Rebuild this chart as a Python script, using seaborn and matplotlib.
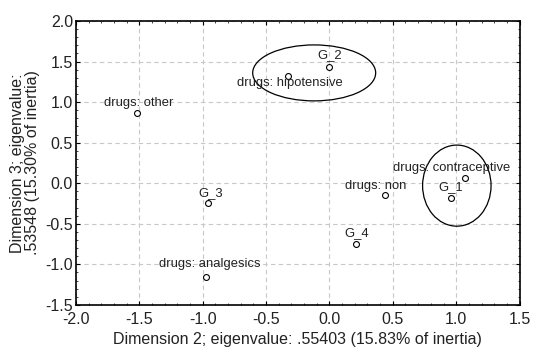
import pandas as pd
import matplotlib.pyplot as plt
import seaborn as sns
from matplotlib.patches import Ellipse
from matplotlib.ticker import MultipleLocator, FormatStrFormatter

# Point labels and coordinates
labels = ['G_1', 'G_2', 'G_3', 'G_4', 'drugs: other', 'drugs: hipotensive',
          'drugs: analgesics', 'drugs: non', 'drugs: contraceptive']
dim2 = [0.96, 0.00, -0.96, 0.21, -1.52, -0.33, -0.97, 0.44, 1.07]
dim3 = [-0.18, 1.43, -0.25, -0.75, 0.86, 1.32, -1.16, -0.14, 0.07]

# label offsets in pixels (dx, dy)
offsets = [(0, 11), (0, 12), (3, 10), (1, 11), (2, 10), (2, -7), (3, 13), (-10, 9), (-13, 10)]

# Ellipses drawn around groups: center x, center y, width, height
ell_x = [-0.12, 1.005]
ell_y = [1.36, -0.03]
ell_w = [0.97, 0.54]
ell_h = [0.69, 1.0]

df = pd.DataFrame({'label': labels, 'x': dim2, 'y': dim3})

sns.set_style('white')
plt.rcParams['font.family'] = ['Liberation Sans', 'DejaVu Sans']

fig = plt.figure(figsize=(5.34, 3.5), dpi=100)
ax = fig.add_axes([0.142, 0.129, 0.831, 0.811])

sns.scatterplot(data=df, x='x', y='y', ax=ax, marker='o', s=18,
                facecolor='white', edgecolor='black', linewidth=0.8, zorder=3)

for lab, x, y, (dx, dy) in zip(labels, dim2, dim3, offsets):
    ax.annotate(lab, (x, y), xytext=(dx * 0.72, dy * 0.72), textcoords='offset points',
                ha='center', va='center', fontsize=9.4, color='#222222', zorder=4)

for cx, cy, w, h in zip(ell_x, ell_y, ell_w, ell_h):
    ax.add_patch(Ellipse((cx, cy), w, h, fill=False, edgecolor='black', linewidth=0.9, zorder=2))

ax.set_xlim(-2.0, 1.5)
ax.set_ylim(-1.5, 2.0)
ax.xaxis.set_major_locator(MultipleLocator(0.5))
ax.yaxis.set_major_locator(MultipleLocator(0.5))
ax.xaxis.set_minor_locator(MultipleLocator(0.1))
ax.yaxis.set_minor_locator(MultipleLocator(0.1))
ax.xaxis.set_major_formatter(FormatStrFormatter('%.1f'))
ax.yaxis.set_major_formatter(FormatStrFormatter('%.1f'))
ax.grid(True, which='major', linestyle=(0, (4, 3)), color='#c8c8c8', linewidth=0.8)
ax.tick_params(which='major', direction='in', length=3, labelsize=11.5,
               right=True, top=True, bottom=True, left=True, colors='black',
               labelcolor='#222222')
ax.tick_params(axis='x', which='major', pad=5)
ax.tick_params(axis='y', which='major', pad=2)
ax.tick_params(which='minor', direction='in', length=1.5, right=True, top=True,
               bottom=True, left=True)
for sp in ax.spines.values():
    sp.set_color('black')
    sp.set_linewidth(1.2)

ax.set_xlabel('Dimension 2; eigenvalue: .55403 (15.83% of inertia)', fontsize=11.5,
              labelpad=4, color='#222222')
ax.set_ylabel('Dimension 3; eigenvalue:\n.53548 (15.30% of inertia)', fontsize=11.5,
              labelpad=4, linespacing=0.95, color='#222222')

plt.savefig('out.png', dpi=100)
